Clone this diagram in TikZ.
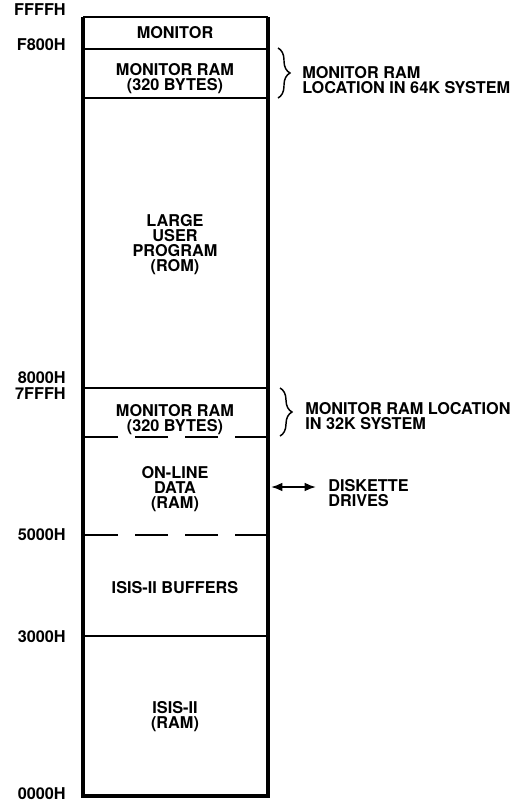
\documentclass[tikz,border=0pt]{standalone}
\usepackage{fontspec}
\setmainfont{TeX Gyre Heros}
\usetikzlibrary{arrows.meta,decorations.pathreplacing}

\begin{document}
\begin{tikzpicture}[
  x=0.75pt, y=-0.75pt,
  every node/.style={font=\bfseries\fontsize{12.2}{11.25}\selectfont, inner sep=0pt},
  region/.style={align=center},
  addr/.style={anchor=east},
  note/.style={anchor=west, align=left},
  divider/.style={line width=1.5pt},
  split/.style={line width=1.5pt, dash pattern=on 24.75pt off 12.75pt},
  edge/.style={line width=3.2pt},
  span/.style={decorate, decoration={brace, amplitude=9pt}, line width=1.1pt},
  arrow/.style={{Latex[length=3mm,width=2.3mm]}-{Latex[length=3mm,width=2.3mm]}, line width=1.3pt}
]
\useasboundingbox (0,0) rectangle (526,804);

% memory column
\draw[divider] (83,17) -- (268,17);
\draw[edge] (83,17) -- (83,796) -- (268,796) -- (268,17);
\draw[divider] (83,49) -- (268,49);
\draw[divider] (83,98) -- (268,98);
\draw[divider] (83,388) -- (268,388);
\draw[split] (268,437) -- (83,437);
\draw[split] (268,535) -- (83,535);
\draw[divider] (83,636) -- (268,636);

% regions
\node[region] (monitor) at (175,33) {MONITOR};
\node[region] (ramhigh) at (175,79) {MONITOR RAM\\(320 BYTES)};
\node[region] (program) at (175,245) {LARGE\\USER\\PROGRAM\\(ROM)};
\node[region] (ramlow) at (175,420) {MONITOR RAM\\(320 BYTES)};
\node[region] (online) at (175,489) {ON-LINE\\DATA\\(RAM)};
\node[region] (buffers) at (175,588) {ISIS-II BUFFERS};
\node[region] (isis) at (175,717) {ISIS-II\\(RAM)};

% addresses
\node[addr] (aFFFF) at (66,10) {FFFFH};
\node[addr] (aF800) at (66,45) {F800H};
\node[addr] (a8000) at (66,378) {8000H};
\node[addr] (a7FFF) at (66,394) {7FFFH};
\node[addr] (a5000) at (66,535) {5000H};
\node[addr] (a3000) at (66,637) {3000H};
\node[addr] (a0000) at (66,794) {0000H};

% notes
\draw[span] (278,48) -- (278,98);
\node[note] (loc64) at (302,80) {MONITOR RAM\\LOCATION IN 64K SYSTEM};
\draw[span] (280,388) -- (280,436);
\node[note] (loc32) at (305,416) {MONITOR RAM LOCATION\\IN 32K SYSTEM};

\coordinate (port) at (271,487);
\node[note] (disk) at (328,493) {DISKETTE\\DRIVES};
\draw[arrow] (port) -- ([xshift=-9pt]disk.west |- port);
\end{tikzpicture}
\end{document}
